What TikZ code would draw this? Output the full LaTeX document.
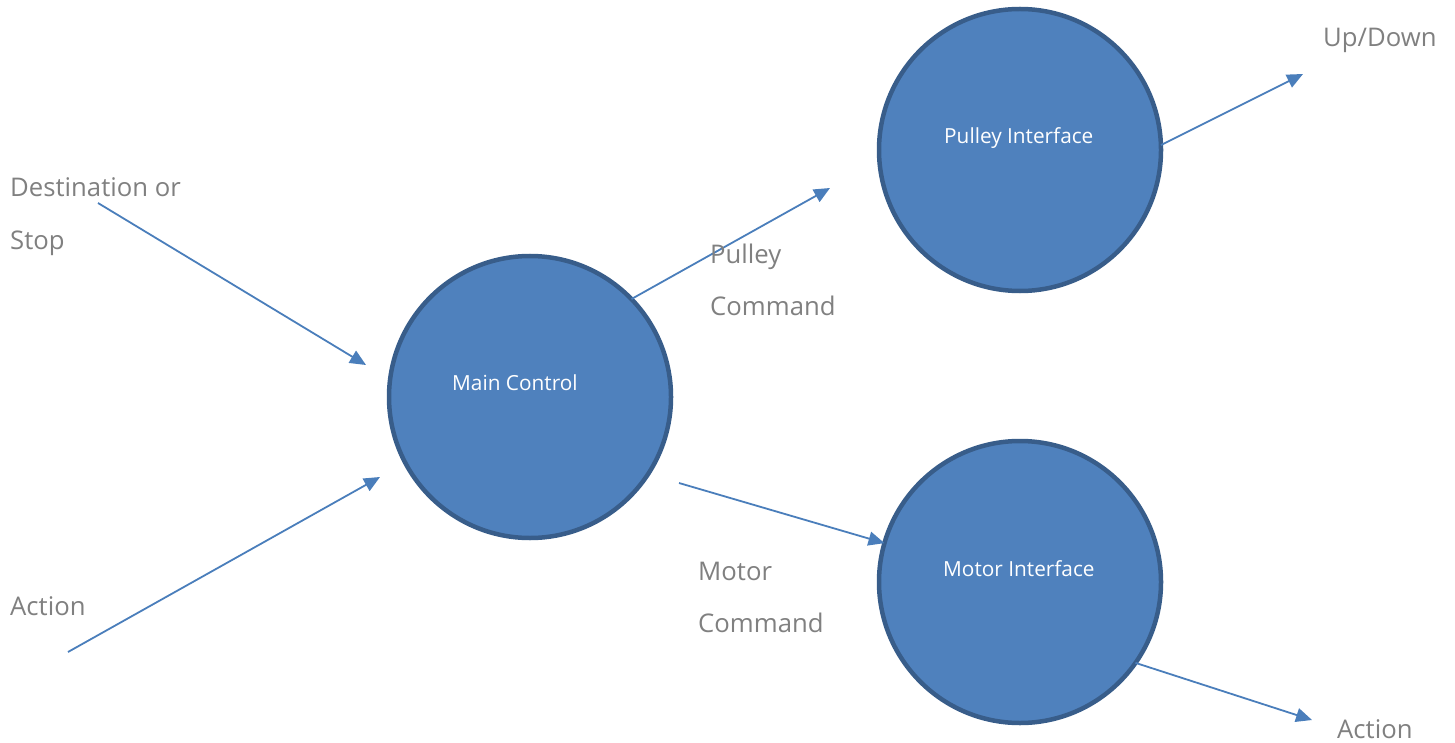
\documentclass[tikz,border=0pt]{standalone}
\usepackage{fontspec}
\setmainfont{Open Sans}
\usetikzlibrary{arrows.meta}
\definecolor{bubblefill}{HTML}{4F81BD}
\definecolor{bubbleedge}{HTML}{385D8A}
\definecolor{flowline}{HTML}{4A7EBB}
\definecolor{labelgray}{HTML}{808080}
\tikzset{
  bubble/.style={circle, fill=bubblefill, draw=bubbleedge, line width=4.5pt,
    minimum size=282pt, inner sep=0pt, outer sep=0pt},
  bubbletext/.style={text=white, font=\fontsize{20.8}{24}\selectfont,
    anchor=base west, inner sep=0pt},
  flowlabel/.style={text=labelgray, font=\fontsize{25.7}{30}\selectfont,
    anchor=base west, inner sep=0pt},
  flow/.style={draw=flowline, line width=1.8pt,
    -{Triangle[length=16pt,width=14pt]}}
}
\begin{document}
\begin{tikzpicture}[x=1pt,y=-1pt]
  \useasboundingbox (0,0) rectangle (1455,743);

  % processes
  \node[bubble] (main)   at (530,397) {};
  \node[bubble] (pulley) at (1020,150) {};
  \node[bubble] (motor)  at (1020,582) {};
  \node[bubbletext] (maint)   at (452,390) {Main Control};
  \node[bubbletext] (pulleyt) at (944,144) {Pulley Interface};
  \node[bubbletext] (motort)  at (943,576) {Motor Interface};

  % free ends of the flows
  \coordinate (destsrc)  at (98,203);
  \coordinate (actsrc)   at (68,652);
  \coordinate (destin)   at (366,365);
  \coordinate (actin)    at (380,477);
  \coordinate (pcmd)     at (830,188);
  \coordinate (updown)   at (1303,74);
  \coordinate (mcmdsrc)  at (679,483);
  \coordinate (actout)   at (1312,720);

  % flows
  \draw[flow] (destsrc) -- (destin);
  \draw[flow] (actsrc) -- (actin);
  \draw[flow] (main.44) -- (pcmd);
  \draw[flow] (pulley.2) -- (updown);
  \draw[flow] (mcmdsrc) -- (motor.164);
  \draw[flow] (motor.-35) -- (actout);

  % flow labels
  \node[flowlabel] (l1) at (10,197) {Destination or};
  \node[flowlabel] (l2) at (10,250) {Stop};
  \node[flowlabel] (l3) at (10,615) {Action};
  \node[flowlabel] (l4) at (710,263) {Pulley};
  \node[flowlabel] (l5) at (710,315) {Command};
  \node[flowlabel] (l6) at (698,580) {Motor};
  \node[flowlabel] (l7) at (698,632) {Command};
  \node[flowlabel] (l8) at (1323,47) {Up/Down};
  \node[flowlabel] (l9) at (1337,738) {Action};
\end{tikzpicture}
\end{document}
